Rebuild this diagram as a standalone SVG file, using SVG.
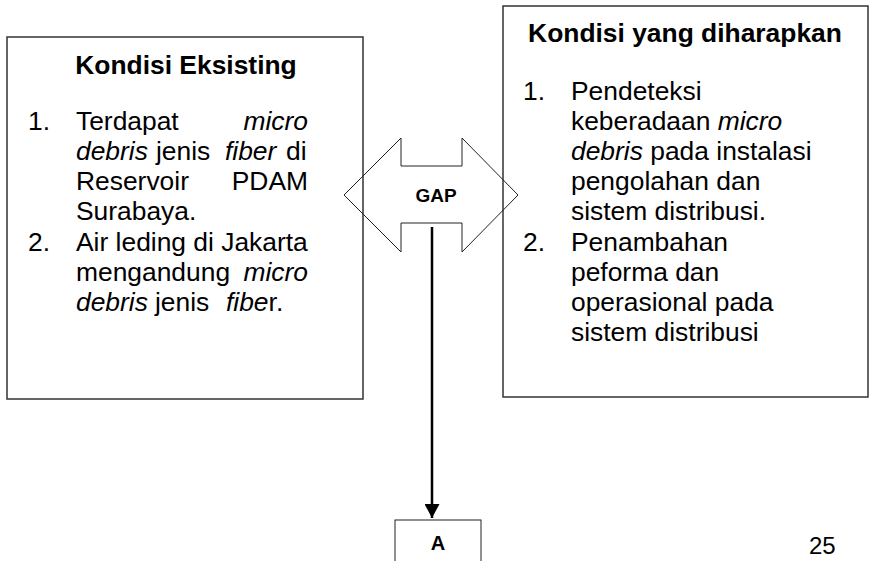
<svg xmlns="http://www.w3.org/2000/svg" width="871" height="561" viewBox="0 0 871 561">
<defs>
<style>
.box{fill:#fff;stroke:#333;stroke-width:1.5}
.t{font-family:"Liberation Sans",Arial,sans-serif;font-size:26.4px;fill:#000}
.b{font-weight:bold}
.i{font-style:italic}
.gap{fill:none;stroke:#222;stroke-width:1}
</style>
<marker id="ah" markerWidth="16" markerHeight="15" refX="15" refY="8" orient="auto" markerUnits="userSpaceOnUse" viewBox="0 0 15 16">
<path d="M0,0 L15,8 L0,16 Z" fill="#000"/>
</marker>
</defs>
<rect width="871" height="561" fill="#fff"/>
<g id="kondisi-eksisting">
<rect class="box" x="7" y="37" width="356" height="362"/>
<text class="t b" x="186" y="74" text-anchor="middle">Kondisi Eksisting</text>
<text class="t" x="28" y="130">1.</text>
<text class="t" x="76" y="130">Terdapat</text>
<text class="t i" x="308" y="130" text-anchor="end">micro</text>
<text class="t" y="160"><tspan class="i" x="76">debris</tspan><tspan x="156">jenis</tspan><tspan class="i" x="225">fiber</tspan><tspan x="286">di</tspan></text>
<text class="t" x="76" y="190">Reservoir</text>
<text class="t" x="308" y="190" text-anchor="end">PDAM</text>
<text class="t" x="76" y="220">Surabaya.</text>
<text class="t" x="28" y="251">2.</text>
<text class="t" x="76" y="251">Air leding di Jakarta</text>
<text class="t" x="76" y="281">mengandung</text>
<text class="t i" x="308" y="281" text-anchor="end">micro</text>
<text class="t" y="311"><tspan class="i" x="76">debris</tspan><tspan x="155">jenis</tspan><tspan class="i" x="226">fibe</tspan><tspan>r.</tspan></text>
</g>
<g id="kondisi-diharapkan">
<rect class="box" x="503" y="6" width="365" height="391"/>
<text class="t b" x="685" y="42" text-anchor="middle">Kondisi yang diharapkan</text>
<text class="t" x="523" y="100">1.</text>
<text class="t" x="571" y="100">Pendeteksi</text>
<text class="t" x="571" y="130">keberadaan <tspan class="i">micro</tspan></text>
<text class="t" x="571" y="160"><tspan class="i">debris</tspan> pada instalasi</text>
<text class="t" x="571" y="190">pengolahan dan</text>
<text class="t" x="571" y="220">sistem distribusi.</text>
<text class="t" x="523" y="251">2.</text>
<text class="t" x="571" y="251">Penambahan</text>
<text class="t" x="571" y="281">peforma dan</text>
<text class="t" x="571" y="311">operasional pada</text>
<text class="t" x="571" y="341">sistem distribusi</text>
</g>
<g id="gap">
<path class="gap" d="M344,195 L401,138 L401,166 L462,166 L462,138 L518,195 L462,252 L462,223 L401,223 L401,252 Z"/>
<text class="t b" x="436" y="202" text-anchor="middle" style="font-size:19px">GAP</text>
</g>
<g id="connectors">
<line x1="432" y1="227" x2="432" y2="518" stroke="#000" stroke-width="2.5" marker-end="url(#ah)"/>
</g>
<g id="a">
<rect x="395" y="520" width="86" height="50" fill="#fff" stroke="#222" stroke-width="1"/>
<text class="t b" x="438" y="550" text-anchor="middle" style="font-size:20px">A</text>
</g>
<g id="page-number">
<text class="t" x="809" y="554" style="font-size:24px">25</text>
</g>
</svg>
